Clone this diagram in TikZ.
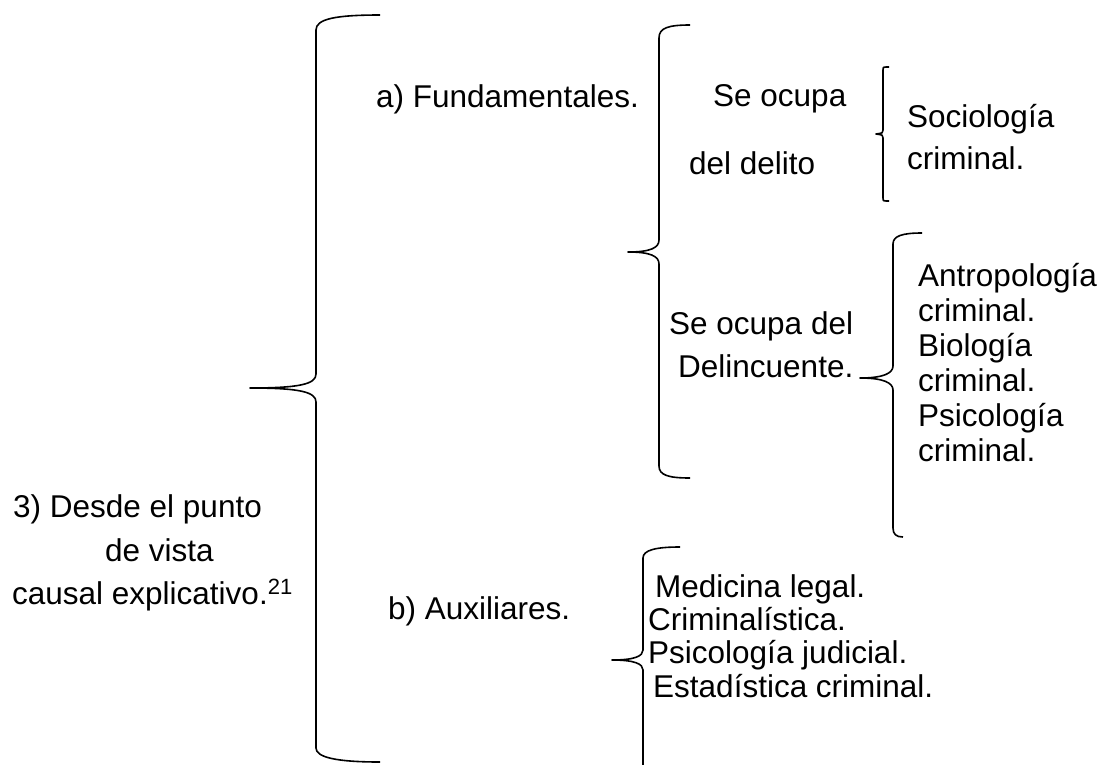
\documentclass[tikz,border=0pt]{standalone}
\usepackage{fontspec}
\setmainfont{Liberation Sans}

\begin{document}
\begin{tikzpicture}[x=1pt, y=-1pt,
    lbl/.style={font=\fontsize{31.5}{36}\selectfont, inner sep=0pt, anchor=base west},
    brace/.style={draw, line width=1.6pt, line join=round}]

    \useasboundingbox (0,0) rectangle (1103,764);

    % Text
    \node[lbl] (punto) at (13,517) {3) Desde el punto};
    \node[lbl] (vista) at (105,561) {de vista};
    \node[lbl] (causal) at (12,604) {causal explicativo.\textsuperscript{21}};
    \node[lbl] (fund) at (376,107) {a) Fundamentales.};
    \node[lbl] (aux) at (388,619) {b) Auxiliares.};
    \node[lbl] (ocupa) at (713,106) {Se ocupa};
    \node[lbl] (delito) at (689,174) {del delito};
    \node[lbl] (ocupaDel) at (669,334) {Se ocupa del};
    \node[lbl] (delinc) at (678,377) {Delincuente.};
    \node[lbl] (socio) at (907,127) {Sociología};
    \node[lbl] (socioB) at (907,169) {criminal.};
    \node[lbl] (antro) at (918,286) {Antropología};
    \node[lbl] (antroB) at (918,321) {criminal.};
    \node[lbl] (bio) at (918,356) {Biología};
    \node[lbl] (bioB) at (918,391) {criminal.};
    \node[lbl] (psico) at (918,426) {Psicología};
    \node[lbl] (psicoB) at (918,461) {criminal.};
    \node[lbl] (medicina) at (655,597) {Medicina legal.};
    \node[lbl] (crimi) at (648,630) {Criminalística.};
    \node[lbl] (psicojud) at (648,663) {Psicología judicial.};
    \node[lbl] (estad) at (653,697) {Estadística criminal.};

    % Braces
    \draw[brace] (380,15) .. controls (335,15) and (316,19) .. (316,30) -- (316,374)
        .. controls (316,384) and (300,388) .. (250,388)
        .. controls (300,388) and (316,392) .. (316,402) -- (316,748)
        .. controls (316,757) and (335,762) .. (380,762);
    \draw[brace] (690,25) .. controls (668,25) and (659,28) .. (659,38) -- (659,240)
        .. controls (659,248) and (650,252) .. (628,252)
        .. controls (650,252) and (659,256) .. (659,264) -- (659,466)
        .. controls (659,475) and (668,478) .. (690,478);
    \draw[brace] (889,67) -- (886,67) .. controls (883,67) .. (883,70) -- (883,130)
        .. controls (883,133) .. (876,134)
        .. controls (883,135) .. (883,138) -- (883,198)
        .. controls (883,201) .. (886,201) -- (889,201);
    \draw[brace] (922,233) .. controls (902,233) and (893,236) .. (893,244) -- (893,366)
        .. controls (893,373) and (884,378) .. (860,378)
        .. controls (884,378) and (893,383) .. (893,390) -- (893,528)
        .. controls (893,534) and (896,537) .. (903,537);
    \draw[brace] (680,547) .. controls (656,547) and (643,550) .. (643,558) -- (643,650)
        .. controls (643,656) and (635,660) .. (612,660)
        .. controls (635,660) and (643,664) .. (643,670) -- (643,770);
\end{tikzpicture}
\end{document}
